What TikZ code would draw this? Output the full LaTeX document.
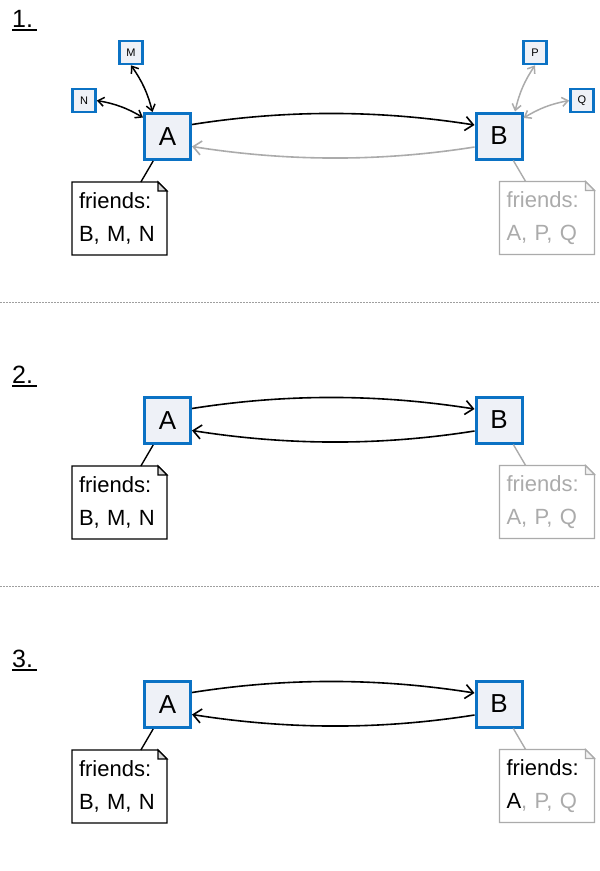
\documentclass[tikz,border=0pt]{standalone}
\usepackage{fontspec}
\setmainfont{Liberation Sans}
\usetikzlibrary{arrows.meta,calc}

\definecolor{boxblue}{HTML}{0B72C4}
\definecolor{boxfill}{HTML}{EEF1F7}
\definecolor{faded}{HTML}{ABABAB}

% outline of a note with a folded top-right corner
\newcommand\drawnote[2]{%
  \draw[line width=1.3pt, #2, line join=miter]
    (#1.south west) -- (#1.north west) -- ([xshift=-9pt]#1.north east)
    -- ([yshift=-9pt]#1.north east) -- (#1.south east) -- cycle;
  \draw[line width=1.1pt, #2, fill=#2!15]
    ([xshift=-9pt]#1.north east) -- ([xshift=-9pt,yshift=-9pt]#1.north east)
    -- ([yshift=-9pt]#1.north east) -- cycle;
}

\begin{document}
\begin{tikzpicture}[x=1pt,y=-1pt,
  peer/.style={draw=boxblue, fill=boxfill, line width=3pt, minimum size=46pt,
    inner sep=0pt, font=\fontsize{26}{26}\selectfont},
  minipeer/.style={draw=boxblue, fill=boxfill, line width=2.6pt, minimum size=23pt,
    inner sep=0pt, font=\fontsize{11}{11}\selectfont},
  note/.style={rectangle, draw=none, outer sep=0pt, minimum width=95pt,
    minimum height=73pt, text width=81pt, inner xsep=7pt, inner ysep=0pt,
    align=left, font=\fontsize{22}{33}\selectfont},
  link/.style={line width=1.6pt, -{Straight Barb[length=8pt,width=14pt]}},
  minilink/.style={line width=1.5pt, {Straight Barb[length=6pt,width=9pt]}-{Straight Barb[length=6pt,width=9pt]}},
  tether/.style={line width=1.4pt},
  stepnum/.style={inner sep=0pt, anchor=base west, font=\fontsize{25}{25}\selectfont},
  separator/.style={line width=1pt, gray!75, dash pattern=on 1.5pt off 1.5pt},
]
\useasboundingbox (0,0) rectangle (600,871);

% ---------- step 1 ----------
\node[stepnum] (s1) at (12,27) {1.};
\draw[line width=1.5pt] ([yshift=-3pt]s1.base west) -- ([xshift=4pt,yshift=-3pt]s1.base east);

\node[peer] (A1) at (167.5,136.5) {A};
\node[peer] (B1) at (499,136) {B};
\node[minipeer] (M) at (131,52.5) {M};
\node[minipeer] (N) at (84,100.5) {N};
\node[minipeer] (P) at (535,52.5) {P};
\node[minipeer] (Q) at (582,100.5) {Q};

\draw[minilink] (M.south) to[bend left=10] ([xshift=-15pt]A1.north);
\draw[minilink] (N.east) to[bend left=10] ([yshift=19pt]A1.west);
\draw[minilink, faded] (P.south) to[bend right=10] ([xshift=16pt]B1.north);
\draw[minilink, faded] (Q.west) to[bend right=10] ([yshift=18pt]B1.east);

\draw[link] ([yshift=12pt]A1.east) .. controls +(95,-15) and +(-95,-15) .. ([yshift=11pt]B1.west);
\draw[link, faded] ([yshift=-11pt]B1.west) .. controls +(-95,15) and +(95,15) .. ([yshift=-10pt]A1.east);

\node[note] (nA1) at (119.5,218.5) {friends:\\B, M, N};
\node[note, text=faded] (nB1) at (547,218) {friends:\\A, P, Q};
\drawnote{nA1}{black}
\drawnote{nB1}{faded}
\draw[tether] (A1) -- (nA1);
\draw[tether, faded] (B1) -- (nB1);

\draw[separator] (0,302) -- (600,302);

% ---------- step 2 ----------
\node[stepnum] (s2) at (12,383) {2.};
\draw[line width=1.5pt] ([yshift=-3pt]s2.base west) -- ([xshift=4pt,yshift=-3pt]s2.base east);

\node[peer] (A2) at (167.5,420.5) {A};
\node[peer] (B2) at (499,420) {B};

\draw[link] ([yshift=12pt]A2.east) .. controls +(95,-15) and +(-95,-15) .. ([yshift=11pt]B2.west);
\draw[link] ([yshift=-11pt]B2.west) .. controls +(-95,15) and +(95,15) .. ([yshift=-10pt]A2.east);

\node[note] (nA2) at (119.5,502.5) {friends:\\B, M, N};
\node[note, text=faded] (nB2) at (547,502) {friends:\\A, P, Q};
\drawnote{nA2}{black}
\drawnote{nB2}{faded}
\draw[tether] (A2) -- (nA2);
\draw[tether, faded] (B2) -- (nB2);

\draw[separator] (0,586) -- (600,586);

% ---------- step 3 ----------
\node[stepnum] (s3) at (12,667) {3.};
\draw[line width=1.5pt] ([yshift=-3pt]s3.base west) -- ([xshift=4pt,yshift=-3pt]s3.base east);

\node[peer] (A3) at (167.5,704.5) {A};
\node[peer] (B3) at (499,704) {B};

\draw[link] ([yshift=12pt]A3.east) .. controls +(95,-15) and +(-95,-15) .. ([yshift=11pt]B3.west);
\draw[link] ([yshift=-11pt]B3.west) .. controls +(-95,15) and +(95,15) .. ([yshift=-10pt]A3.east);

\node[note] (nA3) at (119.5,786.5) {friends:\\B, M, N};
\node[note] (nB3) at (547,786) {friends:\\A\textcolor{faded}{, P, Q}};
\drawnote{nA3}{black}
\drawnote{nB3}{faded}
\draw[tether] (A3) -- (nA3);
\draw[tether, faded] (B3) -- (nB3);
\end{tikzpicture}
\end{document}
